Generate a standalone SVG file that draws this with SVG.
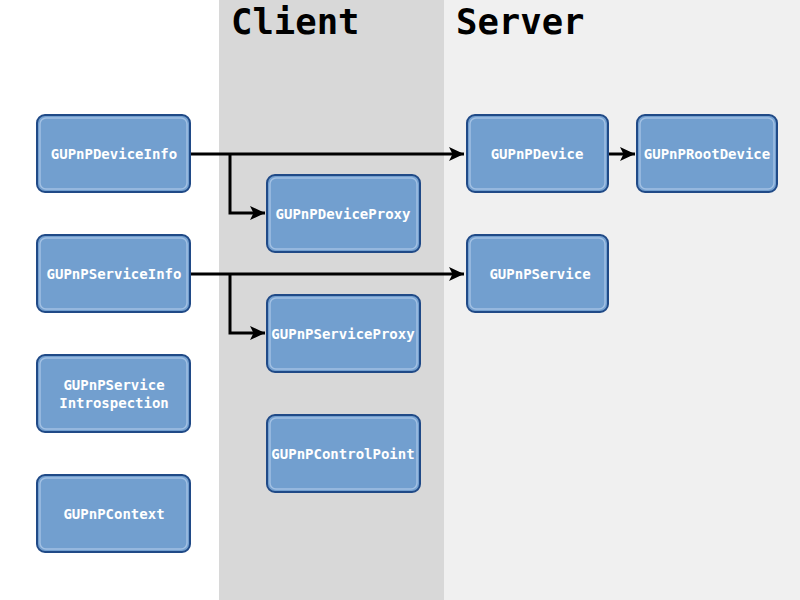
<svg xmlns="http://www.w3.org/2000/svg" width="800" height="600" viewBox="0 0 800 600">
  <style>
    .lane-title { font-family: "DejaVu Sans Mono", "Liberation Mono", monospace; font-weight: bold; font-size: 35.6px; fill: #000; }
    .box { fill: #729fcf; stroke: #204a87; stroke-width: 2; }
    .box-hi { fill: none; stroke: #a9c6e6; stroke-width: 1.5; opacity: 0.85; }
    .label { font-family: "DejaVu Sans Mono", "Liberation Mono", monospace; font-weight: bold; font-size: 14px; fill: #fff; text-anchor: middle; }
    .wire { fill: none; stroke: #000; stroke-width: 3; }
  </style>
  <defs>
    <marker id="arrow" viewBox="-16 -8 17 16" markerWidth="17" markerHeight="16" refX="0" refY="0" orient="auto" markerUnits="userSpaceOnUse">
      <path d="M0,0 L-15,-7 L-11.5,0 L-15,7 Z" fill="#000"/>
    </marker>
  </defs>

  <!-- lanes -->
  <rect x="0" y="0" width="800" height="600" fill="#ffffff"/>
  <rect x="219" y="0" width="225" height="600" fill="#d8d8d8"/>
  <rect x="444" y="0" width="356" height="600" fill="#f0f0f0"/>
  <text class="lane-title" x="231" y="34">Client</text>
  <text class="lane-title" x="456" y="34">Server</text>

  <!-- connectors -->
  <g id="connectors">
    <path class="wire" d="M191,154 H464" marker-end="url(#arrow)"/>
    <path class="wire" d="M230,154 V213 H265" marker-end="url(#arrow)"/>
    <path class="wire" d="M191,274 H464" marker-end="url(#arrow)"/>
    <path class="wire" d="M230,274 V333 H265" marker-end="url(#arrow)"/>
    <path class="wire" d="M608,154 H635" marker-end="url(#arrow)"/>
  </g>

  <!-- client-side / shared nodes -->
  <g id="device-info">
    <rect class="box" x="37" y="115" width="153" height="77" rx="8"/>
    <rect class="box-hi" x="40" y="118" width="147" height="71" rx="6"/>
    <text class="label" x="114" y="159">GUPnPDeviceInfo</text>
  </g>
  <g id="service-info">
    <rect class="box" x="37" y="235" width="153" height="77" rx="8"/>
    <rect class="box-hi" x="40" y="238" width="147" height="71" rx="6"/>
    <text class="label" x="114" y="279">GUPnPServiceInfo</text>
  </g>
  <g id="service-introspection">
    <rect class="box" x="37" y="355" width="153" height="77" rx="8"/>
    <rect class="box-hi" x="40" y="358" width="147" height="71" rx="6"/>
    <text class="label" x="114" y="390">GUPnPService</text>
    <text class="label" x="114" y="408">Introspection</text>
  </g>
  <g id="context">
    <rect class="box" x="37" y="475" width="153" height="77" rx="8"/>
    <rect class="box-hi" x="40" y="478" width="147" height="71" rx="6"/>
    <text class="label" x="114" y="519">GUPnPContext</text>
  </g>

  <g id="device-proxy">
    <rect class="box" x="267" y="175" width="153" height="77" rx="8"/>
    <rect class="box-hi" x="270" y="178" width="147" height="71" rx="6"/>
    <text class="label" x="343" y="219">GUPnPDeviceProxy</text>
  </g>
  <g id="service-proxy">
    <rect class="box" x="267" y="295" width="153" height="77" rx="8"/>
    <rect class="box-hi" x="270" y="298" width="147" height="71" rx="6"/>
    <text class="label" x="343" y="339">GUPnPServiceProxy</text>
  </g>
  <g id="control-point">
    <rect class="box" x="267" y="415" width="153" height="77" rx="8"/>
    <rect class="box-hi" x="270" y="418" width="147" height="71" rx="6"/>
    <text class="label" x="343" y="459">GUPnPControlPoint</text>
  </g>

  <!-- server-side nodes -->
  <g id="device">
    <rect class="box" x="467" y="115" width="141" height="77" rx="8"/>
    <rect class="box-hi" x="470" y="118" width="135" height="71" rx="6"/>
    <text class="label" x="537" y="159">GUPnPDevice</text>
  </g>
  <g id="root-device">
    <rect class="box" x="637" y="115" width="140" height="77" rx="8"/>
    <rect class="box-hi" x="640" y="118" width="134" height="71" rx="6"/>
    <text class="label" x="707" y="159">GUPnPRootDevice</text>
  </g>
  <g id="service">
    <rect class="box" x="467" y="235" width="141" height="77" rx="8"/>
    <rect class="box-hi" x="470" y="238" width="135" height="71" rx="6"/>
    <text class="label" x="540" y="279">GUPnPService</text>
  </g>
</svg>
